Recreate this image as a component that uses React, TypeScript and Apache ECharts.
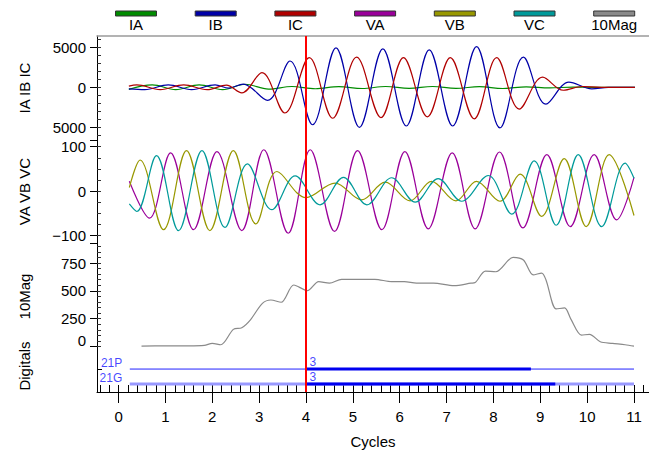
import React, { useEffect, useRef } from 'react';
import * as echarts from 'echarts';

// ---- tick labels ----
const xTicks = [0, 1, 2, 3, 4, 5, 6, 7, 8, 9, 10, 11];
const currentTicks = [-5000, 0, 5000];
const voltageTicks = [-100, 0, 100];
const magTicks = [0, 250, 500, 750];

// ---- legend ----
const legendNames = ['IA', 'IB', 'IC', 'VA', 'VB', 'VC', '10Mag'];
const legendColors = ['#008c00', '#0000a8', '#b00000', '#9a009a', '#989800', '#009a9a', '#8a8a8a'];

// ---- currents (cycle, A): peaks and troughs of each phase ----
const ia: [number, number][] = [
  [0.22, -250], [0.72, 300], [1.22, -300], [1.72, 300], [2.22, -300], [2.7, 380],
  [3.2, -220], [3.7, 100], [4.2, -180], [4.7, 80], [5.2, -150], [5.7, 100],
  [6.2, -130], [6.7, 100], [7.2, -130], [7.7, 80], [8.2, -150], [8.7, 60],
  [9.2, -80], [9.7, 30], [10.1, 0], [11.02, 0],
];
const ib: [number, number][] = [
  [0.22, -200], [0.56, -300], [1.06, 300], [1.56, -300], [2.06, 300], [2.35, -100],
  [2.66, 400], [3.18, -1630], [3.66, 3290], [4.14, -4680], [4.64, 4920], [5.14, -5000],
  [5.64, 4800], [6.14, -4840], [6.63, 4680], [7.13, -4840], [7.64, 5080], [8.14, -5080],
  [8.64, 3780], [9.12, -2110], [9.61, 650], [10.1, -200], [10.45, 0], [11.02, 0],
];
const ic: [number, number][] = [
  [0.22, 150], [0.39, 300], [0.89, -300], [1.39, 300], [1.89, -300], [2.3, 280],
  [2.63, -690], [3.06, 1830], [3.55, -3210], [4.07, 3700], [4.57, -3870], [5.08, 3780],
  [5.6, -3780], [6.08, 3700], [6.59, -3700], [7.08, 3700], [7.59, -3940], [8.07, 3700],
  [8.55, -2720], [9.05, 1260], [9.49, -370], [9.9, 100], [10.3, 0], [11.02, 0],
];

// ---- voltages (cycle, V): peaks and troughs of each phase ----
const va: [number, number][] = [
  [0.23, 22], [0.66, -61], [1.11, 86], [1.6, -87], [2.1, 89], [2.63, -89],
  [3.1, 93], [3.62, -95], [4.09, 93], [4.61, -91], [5.1, 91], [5.62, -87],
  [6.11, 89], [6.61, -85], [7.12, 86], [7.61, -85], [8.13, 88], [8.63, -83],
  [9.14, 82], [9.64, -80], [10.15, 82], [10.63, -65], [11.0, 31],
];
const vb: [number, number][] = [
  [0.23, 8], [0.46, 70], [0.96, -87], [1.45, 91], [1.95, -89], [2.45, 91],
  [2.93, -74], [3.38, 44], [4.0, -15], [4.62, 18], [5.19, -20], [5.69, 20],
  [6.22, -22], [6.68, 22], [7.2, -22], [7.64, 22], [8.14, -23], [8.57, 38],
  [9.03, -57], [9.51, 73], [9.98, -80], [10.47, 82], [11.0, -55],
];
const vc: [number, number][] = [
  [0.23, -29], [0.39, -46], [0.81, 80], [1.28, -89], [1.78, 91], [2.27, -82],
  [2.75, 61], [3.27, -42], [3.77, 34], [4.3, -31], [4.8, 31], [5.3, -31],
  [5.83, 30], [6.33, -25], [6.82, 28], [7.32, -23], [7.89, 35], [8.39, -52],
  [8.87, 68], [9.34, -77], [9.81, 82], [10.31, -80], [10.81, 63], [11.0, 29],
];

// ---- 10-cycle magnitude ----
const mag10: [number, number][] = [
  [0.49, 4], [1.0, 6], [1.5, 6], [1.83, 10], [2.0, 29], [2.18, 16], [2.45, 154],
  [2.63, 169], [2.81, 238], [3.07, 388], [3.25, 418], [3.47, 398], [3.74, 553],
  [4.03, 502], [4.27, 583], [4.5, 569], [4.76, 604], [5.47, 604], [5.83, 583],
  [6.1, 583], [6.36, 569], [6.72, 569], [7.16, 547], [7.52, 569], [7.61, 575],
  [7.83, 678], [8.05, 672], [8.42, 801], [8.64, 777], [8.85, 643], [9.03, 660],
  [9.12, 600], [9.34, 338], [9.52, 347], [9.65, 249], [9.88, 103], [10.05, 110],
  [10.28, 43], [10.54, 29], [10.81, 16], [11.0, 4],
];

// ---- digital channels ----
const digitalNames = ['21P', '21G'];
const digitalLevels = [2, 1];
const digitalRecord = [0.24, 11.0];
const digitalOn = [[4.0, 8.8], [4.0, 9.32]];
const digitalStates = ['3', '3'];

// cursor position (cycles)
const cursorCycle = 4;

const FONT = '"Liberation Sans", Arial, Helvetica, sans-serif';
const X_MIN = -0.46;
const X_MAX = 11.32;
const DIGITAL_BLUE = '#1414ff';

function steps(from: number, to: number, step: number): number[] {
  const out: number[] = [];
  for (let v = from; v <= to + 1e-9; v += step) out.push(Math.round(v * 1000) / 1000);
  return out;
}

const cursorLine = {
  silent: true,
  symbol: 'none',
  z: 10,
  label: { show: false },
  lineStyle: { color: '#ff0000', width: 2, type: 'solid' },
  data: [{ xAxis: cursorCycle }],
};

function wave(name: string, data: [number, number][], color: string, xi: number, yi: number, withCursor = false, smooth = 0.36) {
  return {
    name,
    type: 'line',
    xAxisIndex: xi,
    yAxisIndex: yi,
    data,
    smooth,
    symbol: 'none',
    showSymbol: false,
    lineStyle: { color, width: 1.2 },
    itemStyle: { color },
    ...(withCursor ? { markLine: cursorLine } : {}),
  };
}

function hiddenX(gridIndex: number) {
  return {
    type: 'value', gridIndex, min: X_MIN, max: X_MAX,
    axisLine: { show: false, onZero: false }, axisTick: { show: false },
    axisLabel: { show: false }, splitLine: { show: false },
  };
}

function majorY(gridIndex: number, min: number, max: number, ticks: number[], labels: number[], name: string, formatter: any, rich?: any) {
  return {
    type: 'value', gridIndex, min, max, position: 'left',
    name, nameLocation: 'middle', nameGap: 65,
    nameTextStyle: { fontSize: 15, color: '#000', fontFamily: FONT },
    axisLine: { show: true, onZero: false, lineStyle: { color: '#000', width: 1 } },
    axisTick: { show: true, customValues: ticks, length: 7, lineStyle: { color: '#000' } },
    axisLabel: { show: true, customValues: labels, formatter, fontSize: 15, color: '#000', margin: 11, fontFamily: FONT, rich },
    splitLine: { show: false },
  };
}

function minorY(gridIndex: number, min: number, max: number, ticks: number[]) {
  return {
    type: 'value', gridIndex, min, max, position: 'left',
    axisLine: { show: false, onZero: false },
    axisTick: { show: true, inside: true, customValues: ticks, length: 4, lineStyle: { color: '#333' } },
    axisLabel: { show: false }, splitLine: { show: false },
  };
}

export default function App() {
  const ref = useRef<HTMLDivElement>(null);

  useEffect(() => {
    if (!ref.current) return;
    const chart = echarts.init(ref.current, undefined, { renderer: 'svg' });

    const legendGraphics: any[] = [];
    legendNames.forEach((n, i) => {
      const cx = 136 + i * 79.7;
      legendGraphics.push({
        type: 'rect', shape: { x: cx - 20.5, y: 11, width: 41, height: 5 },
        style: { fill: legendColors[i], stroke: '#333', lineWidth: 1 },
      });
      legendGraphics.push({
        type: 'text', x: cx, y: 24,
        style: { text: n, fontSize: 15, fontFamily: FONT, fill: '#000', align: 'center', verticalAlign: 'middle' },
      });
    });

    const digitalSeries: any[] = [];
    digitalNames.forEach((n, i) => {
      const lvl = digitalLevels[i];
      digitalSeries.push({
        name: n + ' base', type: 'line', xAxisIndex: 3, yAxisIndex: 6, symbol: 'none',
        data: [[digitalRecord[0], lvl], [digitalRecord[1], lvl]],
        lineStyle: { color: i === 0 ? '#2222ff' : '#9999ff', width: i === 0 ? 1 : 3 },
      });
      digitalSeries.push({
        name: n + ' on', type: 'line', xAxisIndex: 3, yAxisIndex: 6, symbol: 'none',
        data: [[digitalOn[i][0], lvl], [digitalOn[i][1], lvl]],
        lineStyle: { color: '#0000f0', width: 3 },
      });
    });
    digitalSeries.push({
      name: 'digital names', type: 'scatter', xAxisIndex: 3, yAxisIndex: 6, symbolSize: 1,
      itemStyle: { color: 'transparent' },
      data: digitalNames.map((n, i) => [digitalRecord[0], digitalLevels[i], n]),
      label: { show: true, position: 'left', distance: 7, offset: [0, -6], formatter: (p: any) => p.value[2], color: DIGITAL_BLUE, fontSize: 12, fontFamily: FONT },
    });
    digitalSeries.push({
      name: 'digital states', type: 'scatter', xAxisIndex: 3, yAxisIndex: 6, symbolSize: 1,
      itemStyle: { color: 'transparent' },
      data: digitalStates.map((s, i) => [digitalOn[i][0], digitalLevels[i], s]),
      label: { show: true, position: 'right', distance: 3, offset: [0, -7], formatter: (p: any) => p.value[2], color: DIGITAL_BLUE, fontSize: 12, fontFamily: FONT },
      markLine: cursorLine,
    });

    const option: any = {
      animation: false,
      backgroundColor: '#ffffff',
      textStyle: { fontFamily: FONT },
      graphic: legendGraphics,
      grid: [
        { left: 97, right: 0, top: 36, height: 104 },
        { left: 97, right: 0, top: 140, height: 103 },
        { left: 97, right: 0, top: 243, height: 107 },
        { left: 97, right: 0, top: 350, height: 42 },
      ],
      xAxis: [
        {
          ...hiddenX(0), position: 'top',
          axisLine: { show: true, onZero: false, lineStyle: { color: '#9a9a9a', width: 1.5 } },
        },
        hiddenX(1),
        hiddenX(2),
        {
          type: 'value', gridIndex: 3, min: X_MIN, max: X_MAX, position: 'bottom',
          name: 'Cycles', nameLocation: 'middle', nameGap: 42,
          nameTextStyle: { fontSize: 15, color: '#000', fontFamily: FONT },
          axisLine: { show: true, onZero: false, lineStyle: { color: '#000', width: 1 } },
          axisTick: { show: true, customValues: xTicks, length: 11, lineStyle: { color: '#000' } },
          axisLabel: { show: true, customValues: xTicks, fontSize: 15, color: '#000', margin: 17, fontFamily: FONT },
          splitLine: { show: false },
        },
        {
          type: 'value', gridIndex: 3, min: X_MIN, max: X_MAX, position: 'bottom',
          axisLine: { show: false, onZero: false },
          axisTick: { show: true, inside: true, customValues: steps(-0.4, 11.2, 0.2), length: 7, lineStyle: { color: '#000' } },
          axisLabel: { show: false }, splitLine: { show: false },
        },
      ],
      yAxis: [
        majorY(0, -6587, 6412, [...currentTicks, -6587], currentTicks, 'IA IB IC', (v: number) => String(Math.abs(v))),
        minorY(0, -6587, 6412, steps(-6000, 6000, 1000)),
        majorY(1, -117, 115, [...voltageTicks, -117], voltageTicks, 'VA VB VC', (v: number) => (v < 0 ? '\u2212' + Math.abs(v) : String(v))),
        minorY(1, -117, 115, steps(-100, 100, 25)),
        majorY(2, -31, 930, magTicks, magTicks, '10Mag', (v: number) => (v === 0 ? '{up|0}' : String(v)), { up: { fontSize: 15, color: '#000', padding: [0, 0, 12, 0] } }),
        minorY(2, -31, 930, steps(0, 900, 50)),
        {
          type: 'value', gridIndex: 3, min: 0.47, max: 3.27, position: 'left',
          name: 'Digitals', nameLocation: 'middle', nameGap: 65,
          nameTextStyle: { fontSize: 15, color: '#000', fontFamily: FONT, padding: [0, 0, 0, 10] },
          axisLine: { show: true, onZero: false, lineStyle: { color: '#000', width: 1 } },
          axisTick: { show: true, inside: true, customValues: [2], length: 5, lineStyle: { color: '#000' } },
          axisLabel: { show: false }, splitLine: { show: false },
        },
      ],
      series: [
        wave('IA', ia, legendColors[0], 0, 0),
        wave('IB', ib, legendColors[1], 0, 0),
        wave('IC', ic, legendColors[2], 0, 0, true),
        wave('VA', va, legendColors[3], 1, 2),
        wave('VB', vb, legendColors[4], 1, 2),
        wave('VC', vc, legendColors[5], 1, 2, true),
        wave('10Mag', mag10, legendColors[6], 2, 4, true, 0.3),
        ...digitalSeries,
      ],
    };

    chart.setOption(option);
    return () => chart.dispose();
  }, []);

  return (
    <div
      ref={ref}
      style={{ position: 'fixed', left: 0, top: 0, width: 649, height: 453, background: '#fff' }}
    />
  );
}
